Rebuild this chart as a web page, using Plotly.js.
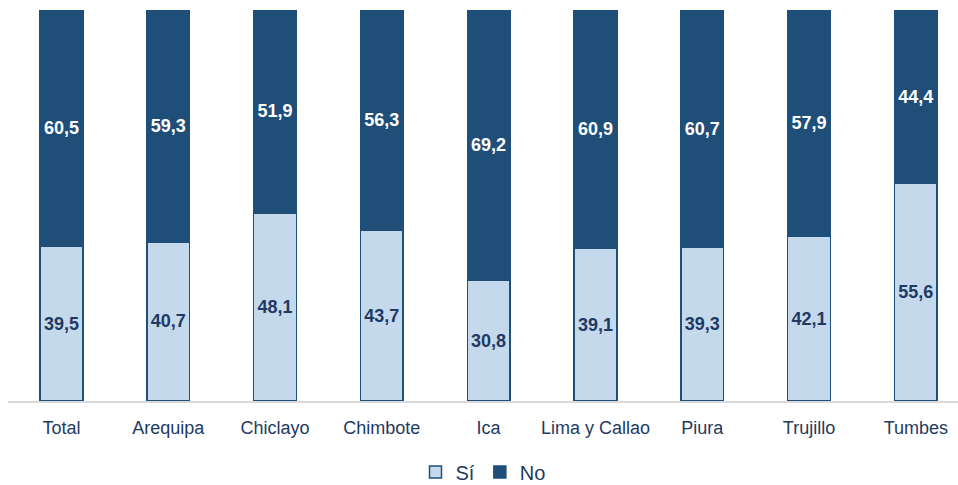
<!DOCTYPE html>
<html>
<head>
<meta charset="utf-8">
<script src="https://cdn.plot.ly/plotly-3.0.1.min.js"></script>
<style>html,body{margin:0;padding:0;background:#fff;}#chart{width:958px;height:485px;}</style>
</head>
<body>
<div id="chart"></div>
<script>
const categories = ["Total", "Arequipa", "Chiclayo", "Chimbote", "Ica", "Lima y Callao", "Piura", "Trujillo", "Tumbes"];
const si = [39.5, 40.7, 48.1, 43.7, 30.8, 39.1, 39.3, 42.1, 55.6];
const no = [60.5, 59.3, 51.9, 56.3, 69.2, 60.9, 60.7, 57.9, 44.4];

const labelFont = "Arial, 'Liberation Sans', sans-serif";
const fmt = v => v.toFixed(1).replace('.', ',');

const traces = [
  {
    type: 'bar', name: 'Sí', x: categories, y: si,
    text: si.map(fmt), textposition: 'inside', insidetextanchor: 'middle',
    textangle: 0, constraintext: 'none',
    textfont: {family: labelFont, size: 18, color: '#1F3A63', weight: 'bold'},
    marker: {color: '#C5D9ED', line: {color: '#1F4E79', width: 1.5}},
    hoverinfo: 'none'
  },
  {
    type: 'bar', name: 'No', x: categories, y: no,
    text: no.map(fmt), textposition: 'inside', insidetextanchor: 'middle',
    textangle: 0, constraintext: 'none',
    textfont: {family: labelFont, size: 18, color: '#FFFFFF', weight: 'bold'},
    marker: {color: '#1F4E79', line: {color: '#1F4E79', width: 1.5}},
    hoverinfo: 'none'
  }
];

const layout = {
  width: 958, height: 485,
  barmode: 'stack', bargap: 0.6,
  margin: {l: 8, r: 0, t: 10, b: 84, autoexpand: false},
  paper_bgcolor: '#fff', plot_bgcolor: '#fff',
  font: {family: 'Arial, "Liberation Sans", sans-serif', color: '#1F3A5F'},
  xaxis: {
    range: [-0.5, 8.395], showline: true, linecolor: '#D9D9D9', linewidth: 2,
    ticks: '', showgrid: false, zeroline: false, ticklabelstandoff: 9,
    tickfont: {size: 18, color: '#1F3A5F'}
  },
  yaxis: {range: [0, 100], visible: false, showgrid: false, zeroline: false},
  showlegend: true,
  legend: {orientation: 'h', x: 0.5, xanchor: 'center', yref: 'container', y: 0.027, yanchor: 'middle',
    font: {size: 20, color: '#1F3A5F'}, traceorder: 'normal', itemwidth: 30}
};

Plotly.newPlot('chart', traces, layout, {staticPlot: true});
</script>
</body>
</html>
